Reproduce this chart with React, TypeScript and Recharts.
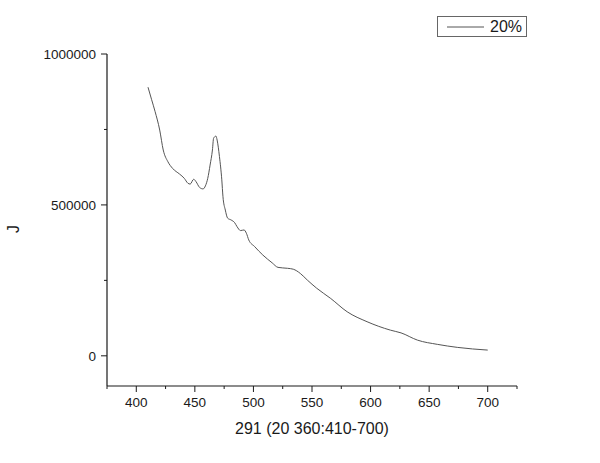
import { LineChart, Line, XAxis, YAxis, Legend, Label } from "recharts";

// wavelength (nm) and intensity
const wavelength = [
  410, 413, 416, 420, 423, 427, 431, 437, 441, 444, 446, 449, 451, 454, 457,
  459, 461, 463, 465, 466, 468, 469, 471, 473, 474, 476, 478, 481, 484, 486,
  489, 492, 494, 496, 501, 508, 516, 521, 529, 534, 540, 546, 554, 566, 580,
  597, 617, 626, 640, 657, 674, 700,
];
const intensity = [
  890000, 850000, 810000, 748000, 682000, 643000, 621000, 602000, 588000,
  572000, 569000, 585000, 577000, 558000, 553000, 563000, 588000, 632000,
  682000, 721000, 728000, 715000, 660000, 583000, 527000, 483000, 456000,
  450000, 441000, 428000, 415000, 417000, 406000, 384000, 362000, 334000,
  308000, 293000, 290000, 287000, 273000, 251000, 224000, 190000, 146000,
  113000, 85000, 76000, 52000, 38000, 28000, 19000,
];

const xTicks = [375, 400, 425, 450, 475, 500, 525, 550, 575, 600, 625, 650, 675, 700, 725];
const xMajor = [400, 450, 500, 550, 600, 650, 700];
const yTicks = [0, 250000, 500000, 750000, 1000000];
const yMajor = [0, 500000, 1000000];

const data = wavelength.map((w, i) => ({ w, v: intensity[i] }));

const FONT = "Arial, 'Liberation Sans', sans-serif";
const INK = "#1a1a1a";

function XTick({ x, y, payload }: any) {
  const major = xMajor.includes(payload.value);
  return (
    <g>
      <line x1={x} x2={x} y1={y} y2={y + (major ? 6 : 3)} stroke={INK} />
      {major && (
        <text x={x} y={y + 21} textAnchor="middle" fontSize={13.5} fontFamily={FONT} fill={INK}>
          {payload.value}
        </text>
      )}
    </g>
  );
}

function YTick({ x, y, payload }: any) {
  const major = yMajor.includes(payload.value);
  return (
    <g>
      <line x1={x - (major ? 6 : 3)} x2={x} y1={y} y2={y} stroke={INK} />
      {major && (
        <text x={x - 11} y={y + 5} textAnchor="end" fontSize={13.5} fontFamily={FONT} fill={INK}>
          {payload.value}
        </text>
      )}
    </g>
  );
}

function LegendBox() {
  return (
    <div
      style={{
        width: 90,
        height: 21,
        boxSizing: "border-box",
        border: "1px solid #666",
        display: "flex",
        alignItems: "center",
        background: "#fff",
        fontFamily: FONT,
      }}
    >
      <svg width={47} height={19}>
        <line x1={9} x2={46} y1={10} y2={10} stroke="#555" strokeWidth={1} />
      </svg>
      <span style={{ fontSize: 16, marginLeft: 5, color: INK, lineHeight: "19px" }}>20%</span>
    </div>
  );
}

export default function App() {
  return (
    <div style={{ position: "absolute", left: 0, top: 0, background: "#fff" }}>
      <LineChart width={600} height={463} data={data} margin={{ top: 54, right: 83, bottom: 0, left: 0 }}>
        <XAxis
          dataKey="w"
          type="number"
          domain={[375, 725]}
          ticks={xTicks}
          interval={0}
          height={77}
          tickSize={0}
          tickMargin={0}
          tickLine={false}
          tick={<XTick />}
          axisLine={{ stroke: INK, strokeWidth: 1.2 }}
        >
          <Label
            content={() => (
              <text x={312} y={434} textAnchor="middle" fontSize={16} fontFamily={FONT} fill={INK}>
                291 (20 360:410-700)
              </text>
            )}
          />
        </XAxis>
        <YAxis
          type="number"
          domain={[-100000, 1000000]}
          ticks={yTicks}
          interval={0}
          width={107}
          tickSize={0}
          tickMargin={0}
          tickLine={false}
          tick={<YTick />}
          axisLine={{ stroke: INK, strokeWidth: 1.2 }}
        >
          <Label
            content={() => (
              <text
                x={19}
                y={229}
                transform="rotate(-90 19 229)"
                textAnchor="middle"
                fontSize={16}
                fontFamily={FONT}
                fill={INK}
              >
                J
              </text>
            )}
          />
        </YAxis>
        <Legend
          layout="horizontal"
          verticalAlign="middle"
          align="center"
          content={() => <LegendBox />}
          wrapperStyle={{ position: "absolute", left: 437, top: 16, width: 90, height: 21 }}
        />
        <Line
          dataKey="v"
          name="20%"
          type="monotone"
          stroke="#555"
          strokeWidth={1}
          dot={false}
          isAnimationActive={false}
        />
      </LineChart>
    </div>
  );
}
